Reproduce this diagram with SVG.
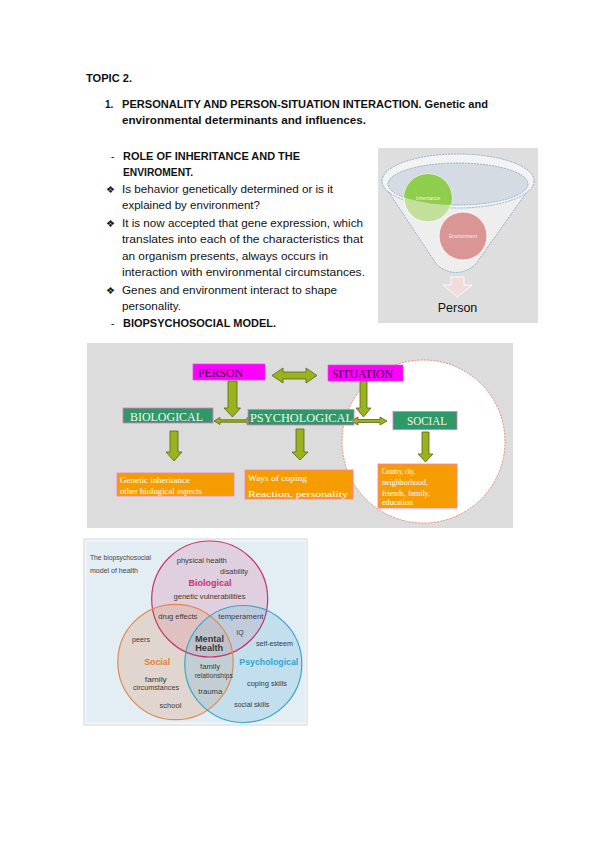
<svg xmlns="http://www.w3.org/2000/svg" width="599" height="848" viewBox="0 0 599 848">
<style>
.t{font-family:"Liberation Sans",Arial,sans-serif;font-size:10px;fill:#111}
.b{font-weight:bold}
.s{font-family:"Liberation Serif","Times New Roman",serif}
.arr{fill:#9ab21e;stroke:#56641a;stroke-width:0.8}
.gbox{fill:#2f9868;stroke:#ff66cc;stroke-width:0.8}
.obox{fill:#f59d00;stroke:#ff77cc;stroke-width:0.8}
.mbox{fill:#ff00ff;stroke:#e040e0;stroke-width:0.6}
.wt{font-family:"Liberation Serif","Times New Roman",serif;font-size:7.5px;fill:#fff}
.gt{font-family:"Liberation Serif","Times New Roman",serif;font-size:12px;fill:#eef8f0}
.pt{font-family:"Liberation Serif","Times New Roman",serif;font-size:12px;fill:#330033}
.v{font-family:"Liberation Sans",Arial,sans-serif;font-size:7px;fill:#3a3a3a;text-anchor:middle}
.vb{font-family:"Liberation Sans",Arial,sans-serif;font-size:9px;font-weight:bold;text-anchor:middle}
</style>
<rect width="599" height="848" fill="#ffffff"/>

<g id="text">
<text class="t b" x="86" y="82" textLength="46" lengthAdjust="spacingAndGlyphs">TOPIC 2.</text>
<text class="t b" x="105" y="108">1.</text>
<text class="t b" x="122" y="108" textLength="366" lengthAdjust="spacingAndGlyphs">PERSONALITY AND PERSON-SITUATION INTERACTION. Genetic and</text>
<text class="t b" x="122" y="124" textLength="244" lengthAdjust="spacingAndGlyphs">environmental determinants and influences.</text>
<text class="t" x="111" y="160">-</text>
<text class="t b" x="123" y="160" textLength="177" lengthAdjust="spacingAndGlyphs">ROLE OF INHERITANCE AND THE</text>
<text class="t b" x="123" y="176" textLength="70" lengthAdjust="spacingAndGlyphs">ENVIROMENT.</text>
<text class="t" x="106" y="193" font-size="9">❖</text>
<text class="t" x="122" y="193" textLength="211" lengthAdjust="spacingAndGlyphs">Is behavior genetically determined or is it</text>
<text class="t" x="122" y="209" textLength="138" lengthAdjust="spacingAndGlyphs">explained by environment?</text>
<text class="t" x="106" y="227" font-size="9">❖</text>
<text class="t" x="122" y="227" textLength="241" lengthAdjust="spacingAndGlyphs">It is now accepted that gene expression, which</text>
<text class="t" x="122" y="243" textLength="241" lengthAdjust="spacingAndGlyphs">translates into each of the characteristics that</text>
<text class="t" x="122" y="260" textLength="206" lengthAdjust="spacingAndGlyphs">an organism presents, always occurs in</text>
<text class="t" x="122" y="276" textLength="243" lengthAdjust="spacingAndGlyphs">interaction with environmental circumstances.</text>
<text class="t" x="106" y="294" font-size="9">❖</text>
<text class="t" x="122" y="294" textLength="215" lengthAdjust="spacingAndGlyphs">Genes and environment interact to shape</text>
<text class="t" x="122" y="310" textLength="59" lengthAdjust="spacingAndGlyphs">personality.</text>
<text class="t" x="111" y="327">-</text>
<text class="t b" x="123" y="327" textLength="153" lengthAdjust="spacingAndGlyphs">BIOPSYCHOSOCIAL MODEL.</text>
</g>

<g id="funnel">
<defs>
<clipPath id="innerClip"><ellipse cx="458" cy="184" rx="70" ry="21"/></clipPath>
</defs>
<rect x="378" y="148" width="160" height="175" fill="#dedede"/>
<path d="M382,182 L437,265 Q456,280 475,265 L534,182 Z" fill="#eeeeee" stroke="#7f9fc8" stroke-width="0.8" stroke-dasharray="2,1"/>
<ellipse cx="458" cy="181" rx="76" ry="27" fill="#f3f3f3" stroke="#7f9fc8" stroke-width="0.8" stroke-dasharray="2,1"/>
<ellipse cx="458" cy="184" rx="70" ry="21" fill="#d5dbe3" stroke="#7f9fc8" stroke-width="0.8" stroke-dasharray="2,1"/>
<circle cx="428" cy="198" r="24" fill="#c3df9c" stroke="#ffffff" stroke-width="0.8"/>
<circle cx="428" cy="198" r="24" fill="#8fcd4c" clip-path="url(#innerClip)"/>
<text x="428" y="199.5" font-family="Liberation Sans,Arial,sans-serif" font-size="5" fill="#f6f6d8" text-anchor="middle">Inheritance</text>
<circle cx="463" cy="236" r="24" fill="#d99694" stroke="#ffffff" stroke-width="0.8"/>
<text x="463" y="237.5" font-family="Liberation Sans,Arial,sans-serif" font-size="5" fill="#fbecec" text-anchor="middle">Environment</text>
<polygon points="451,277 464,277 464,285 472,285 457.5,297 443,285 451,285" fill="#f2dcdb" stroke="#ffffff" stroke-width="0.8"/>
<text x="457.5" y="312" font-family="Liberation Sans,Arial,sans-serif" font-size="12.5" fill="#111" text-anchor="middle">Person</text>
</g>

<g id="bps-diagram">
<rect x="87" y="343" width="426" height="185" fill="#dcdcdc"/>
<circle cx="423.5" cy="441.5" r="81.5" fill="#ffffff" stroke="#e8846a" stroke-width="0.9" stroke-dasharray="2,1.2"/>
</g>

<g id="connectors">
<polygon class="arr" points="272,375.5 283,368 283,372 306,372 306,368 317,375.5 306,383 306,379 283,379 283,383"/>
<polygon class="arr" points="228,381 237,381 237,408 240.5,408 232.5,417 224,408 228,408"/>
<polygon class="arr" points="360,381 367,381 367,408 371,408 363.5,417 356,408 360,408"/>
<polygon class="arr" points="214,421 220,417.5 220,419.8 247,419.8 247,417.5 253,421 247,424.5 247,422.2 220,422.2 220,424.5"/>
<polygon class="arr" points="351,421 358,417 358,419.5 380,419.5 380,417 387,421 380,425 380,422.5 358,422.5 358,425"/>
<polygon class="arr" points="170,431 178,431 178,452 182,452 174,461 166,452 170,452"/>
<polygon class="arr" points="296,429 304,429 304,452 308,452 300,460 292,452 296,452"/>
<polygon class="arr" points="422,432 429,432 429,454 433,454 425.5,462 418,454 422,454"/>
</g>

<g id="person">
<rect class="mbox" x="193" y="364" width="72" height="16"/>
<text class="pt" x="198" y="376.5" textLength="45" lengthAdjust="spacingAndGlyphs">PERSON</text>
</g>
<g id="situation">
<rect class="mbox" x="328" y="365" width="75" height="16"/>
<text class="pt" x="332" y="377.5" textLength="61" lengthAdjust="spacingAndGlyphs">SITUATION</text>
</g>
<g id="biological">
<rect class="gbox" x="123" y="408" width="90" height="15"/>
<text class="gt" x="130" y="420.5" textLength="73" lengthAdjust="spacingAndGlyphs">BIOLOGICAL</text>
</g>
<g id="psychological">
<rect class="gbox" x="248" y="409.5" width="106" height="15.5"/>
<text class="gt" x="250" y="422" textLength="103" lengthAdjust="spacingAndGlyphs">PSYCHOLOGICAL</text>
</g>
<g id="social">
<rect class="gbox" x="393" y="411.5" width="64" height="18"/>
<text class="gt" x="407" y="424.5" textLength="40" lengthAdjust="spacingAndGlyphs">SOCIAL</text>
</g>
<g id="bio-detail">
<rect class="obox" x="117" y="473" width="117" height="23"/>
<text class="wt" x="120" y="483" textLength="70" lengthAdjust="spacingAndGlyphs">Genetic inheritance</text>
<text class="wt" x="120" y="493.5" textLength="82" lengthAdjust="spacingAndGlyphs">other biological aspects</text>
</g>
<g id="psych-detail">
<rect class="obox" x="245" y="470" width="108" height="29"/>
<text class="wt" x="248" y="481" textLength="59" lengthAdjust="spacingAndGlyphs">Ways of coping</text>
<text class="wt" x="248" y="497" textLength="100" lengthAdjust="spacingAndGlyphs">Reaction, personality</text>
</g>
<g id="social-detail">
<rect class="obox" x="378" y="464" width="79" height="44"/>
<text class="wt" x="382" y="473.5" textLength="33" lengthAdjust="spacingAndGlyphs">Country, city,</text>
<text class="wt" x="382" y="484.5" textLength="46" lengthAdjust="spacingAndGlyphs">neighborhood,</text>
<text class="wt" x="382" y="495.5" textLength="48" lengthAdjust="spacingAndGlyphs">friends, family,</text>
<text class="wt" x="382" y="505" textLength="31" lengthAdjust="spacingAndGlyphs">education</text>
</g>

<g id="venn">
<rect x="84" y="539" width="223" height="186" fill="#f4f7f9" stroke="#c8c8c8" stroke-width="0.8"/>
<rect x="86.5" y="541.5" width="218.5" height="181" fill="#e3edf4"/>
<text x="90" y="560" font-family="Liberation Sans Narrow,Liberation Sans,Arial,sans-serif" font-size="7.5" fill="#444" textLength="61" lengthAdjust="spacingAndGlyphs">The biopsychosocial</text>
<text x="90" y="573" font-family="Liberation Sans Narrow,Liberation Sans,Arial,sans-serif" font-size="7.5" fill="#444" textLength="48" lengthAdjust="spacingAndGlyphs">model of health</text>
<circle cx="209.7" cy="599" r="58" fill="#d98aab" fill-opacity="0.3"/>
<circle cx="175.5" cy="662" r="57.7" fill="#d9a27a" fill-opacity="0.3"/>
<circle cx="243.3" cy="664" r="58.5" fill="#86c4df" fill-opacity="0.35"/>
<circle cx="209.7" cy="599" r="58" fill="none" stroke="#c8336e" stroke-width="1.2"/>
<circle cx="175.5" cy="662" r="57.7" fill="none" stroke="#e08a50" stroke-width="1.2"/>
<circle cx="243.3" cy="664" r="58.5" fill="none" stroke="#38a6c8" stroke-width="1.2"/>
<text class="v" x="201.7" y="563" textLength="50" lengthAdjust="spacingAndGlyphs">physical health</text>
<text class="v" x="234" y="574" textLength="28" lengthAdjust="spacingAndGlyphs">disability</text>
<text class="vb" x="210" y="586" fill="#c8336e" textLength="43" lengthAdjust="spacingAndGlyphs">Biological</text>
<text class="v" x="209.5" y="598.5" textLength="72" lengthAdjust="spacingAndGlyphs">genetic vulnerabilities</text>
<text class="v" x="177.8" y="619" textLength="39" lengthAdjust="spacingAndGlyphs">drug effects</text>
<text class="v" x="240.8" y="619" textLength="45" lengthAdjust="spacingAndGlyphs">temperament</text>
<text class="v" x="240" y="635">IQ</text>
<text class="vb" x="209.5" y="641.5" fill="#3a3a3a" textLength="29" lengthAdjust="spacingAndGlyphs">Mental</text>
<text class="vb" x="209.2" y="651" fill="#3a3a3a" textLength="28" lengthAdjust="spacingAndGlyphs">Health</text>
<text class="v" x="141" y="642" textLength="18" lengthAdjust="spacingAndGlyphs">peers</text>
<text class="v" x="274.5" y="646" textLength="37" lengthAdjust="spacingAndGlyphs">self-esteem</text>
<text class="vb" x="157.2" y="665" fill="#e07d3c" textLength="26" lengthAdjust="spacingAndGlyphs">Social</text>
<text class="vb" x="268.8" y="665" fill="#2aa8d0" textLength="59" lengthAdjust="spacingAndGlyphs">Psychological</text>
<text class="v" x="210" y="669" textLength="20" lengthAdjust="spacingAndGlyphs">family</text>
<text class="v" x="213.8" y="677.5" textLength="38" lengthAdjust="spacingAndGlyphs">relationships</text>
<text class="v" x="155.8" y="681.5" textLength="22" lengthAdjust="spacingAndGlyphs">family</text>
<text class="v" x="156" y="690" textLength="46" lengthAdjust="spacingAndGlyphs">circumstances</text>
<text class="v" x="267" y="685.5" textLength="40" lengthAdjust="spacingAndGlyphs">coping skills</text>
<text class="v" x="210.3" y="694" textLength="24" lengthAdjust="spacingAndGlyphs">trauma</text>
<text class="v" x="170.5" y="708" textLength="22" lengthAdjust="spacingAndGlyphs">school</text>
<text class="v" x="251.7" y="706.5" textLength="35" lengthAdjust="spacingAndGlyphs">social skills</text>
</g>
</svg>
